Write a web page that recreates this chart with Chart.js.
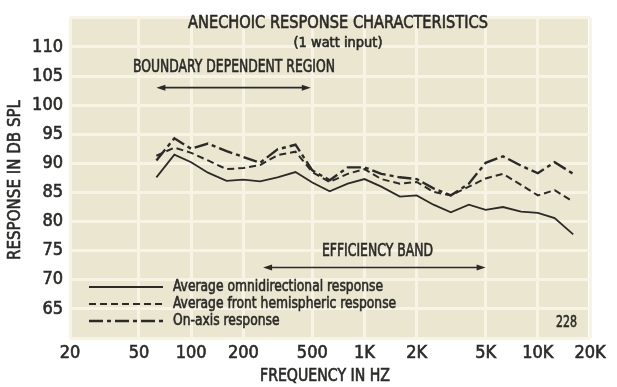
<!DOCTYPE html>
<html>
<head>
<meta charset="utf-8">
<script src="https://cdn.jsdelivr.net/npm/chart.js@4.4.1/dist/chart.umd.min.js"></script>
<style>
  html, body { margin: 0; padding: 0; background: #ffffff; }
  canvas { display: block; }
</style>
</head>
<body>
<canvas id="chart" width="617" height="387"></canvas>
<script>
// 1/3-octave measurement points (Hz)
const freqs = [63, 80, 100, 125, 160, 200, 250, 315, 400, 500, 630, 800, 1000,
               1250, 1600, 2000, 2500, 3150, 4000, 5000, 6300, 8000, 10000, 12500, 16000];

// Response in dB SPL at 1 watt
const omniResponse  = [87.6, 91.5, 90.2, 88.4, 87.0, 87.2, 86.9, 87.6, 88.5, 86.7, 85.2, 86.5, 87.3,
                       86.0, 84.3, 84.5, 82.9, 81.6, 82.9, 82.0, 82.5, 81.7, 81.5, 80.6, 77.8];
const frontResponse = [91.3, 92.7, 91.8, 90.5, 89.0, 89.2, 89.7, 91.4, 92.0, 88.5, 86.8, 88.2, 89.0,
                       87.3, 86.5, 86.8, 85.1, 84.5, 86.0, 87.4, 88.2, 86.3, 84.5, 85.4, 83.4];
const onAxisResponse = [90.5, 94.3, 92.5, 93.4, 92.1, 91.1, 90.1, 92.4, 93.2, 88.8, 87.1, 89.3, 89.3,
                        88.2, 87.6, 87.3, 85.7, 84.5, 86.5, 90.1, 91.2, 89.6, 88.3, 90.2, 88.2];

// Axis ticks
const freqTicks = [20, 50, 100, 200, 500, 1000, 2000, 5000, 10000, 20000];
const freqTickLabels = ['20', '50', '100', '200', '500', '1K', '2K', '5K', '10K', '20K'];
const splTicks = [60, 65, 70, 75, 80, 85, 90, 95, 100, 105, 110, 115];
const splTickLabels = ['', '65', '70', '75', '80', '85', '90', '95', '100', '105', '110', ''];

// Frequency bands marked with arrows: [low Hz, high Hz, level dB]
const boundaryBand = [63, 490, 103];
const efficiencyBand = [260, 5000, 72.1];

const FONT = '"Liberation Sans Narrow", "DejaVu Sans Condensed", "Arial Narrow", "Roboto", sans-serif';
const INK = '#2a2a28';
const PAPER = '#ebe6cf';
const GRID = '#f7f4e5';
const TEXT_STROKE = 0.6;

const seriesStyles = [
  { label: 'Average omnidirectional response', data: omniResponse, dash: [], width: 1.8 },
  { label: 'Average front hemispheric response', data: frontResponse, dash: [7, 4], width: 2 },
  { label: 'On-axis response', data: onAxisResponse, dash: [14, 4, 4, 4], width: 2.4 }
];

Chart.defaults.font.family = FONT;
Chart.defaults.color = INK;

// Draw text squeezed horizontally so it spans the given width
function squeezedText(ctx, text, x, y, width, align, angle) {
  const s = width / ctx.measureText(text).width;
  ctx.save();
  ctx.translate(x, y);
  if (angle) ctx.rotate(angle);
  ctx.scale(s, 1);
  ctx.textAlign = align;
  ctx.lineWidth = TEXT_STROKE;
  ctx.strokeStyle = INK;
  ctx.fillText(text, 0, 0);
  ctx.strokeText(text, 0, 0);
  ctx.restore();
  return s;
}

function drawArrow(ctx, x1, x2, y) {
  ctx.save();
  ctx.strokeStyle = INK;
  ctx.fillStyle = INK;
  ctx.lineWidth = 1.6;
  ctx.beginPath();
  ctx.moveTo(x1 + 4, y);
  ctx.lineTo(x2 - 4, y);
  ctx.stroke();
  [[x1, 1], [x2, -1]].forEach(([x, d]) => {
    ctx.beginPath();
    ctx.moveTo(x, y);
    ctx.lineTo(x + d * 9, y - 3);
    ctx.lineTo(x + d * 9, y + 3);
    ctx.closePath();
    ctx.fill();
  });
  ctx.restore();
}

const paperPlugin = {
  id: 'paper',
  beforeDraw(chart) {
    const { ctx, chartArea: a } = chart;
    ctx.save();
    ctx.fillStyle = '#ffffff';
    ctx.fillRect(0, 0, chart.width, chart.height);
    ctx.fillStyle = PAPER;
    ctx.fillRect(a.left, a.top, a.right - a.left - 2, a.bottom - a.top);
    ctx.restore();
  },
  afterDatasetsDraw(chart) {
    const { ctx, scales: { x, y } } = chart;
    ctx.save();
    ctx.fillStyle = INK;
    ctx.textBaseline = 'middle';

    // heading
    ctx.font = '18px ' + FONT;
    squeezedText(ctx, 'ANECHOIC RESPONSE CHARACTERISTICS', 338, 23, 300, 'center');
    ctx.font = '14px ' + FONT;
    squeezedText(ctx, '(1 watt input)', 338, 43, 89, 'center');

    // band annotations
    ctx.font = '17px ' + FONT;
    squeezedText(ctx, 'BOUNDARY DEPENDENT REGION', 133, 68, 202, 'left');
    squeezedText(ctx, 'EFFICIENCY BAND', 322, 252, 111, 'left');
    drawArrow(ctx, x.getPixelForValue(boundaryBand[0]), x.getPixelForValue(boundaryBand[1]),
              y.getPixelForValue(boundaryBand[2]));
    drawArrow(ctx, x.getPixelForValue(efficiencyBand[0]), x.getPixelForValue(efficiencyBand[1]),
              y.getPixelForValue(efficiencyBand[2]));

    // key
    const keyY = [287, 304, 321];
    ctx.font = '16px ' + FONT;
    const keyScale = 210 / ctx.measureText(seriesStyles[0].label).width;
    seriesStyles.forEach((s, i) => {
      ctx.save();
      ctx.strokeStyle = INK;
      ctx.lineWidth = s.width;
      ctx.setLineDash(s.dash);
      ctx.beginPath();
      ctx.moveTo(89, keyY[i]);
      ctx.lineTo(163, keyY[i]);
      ctx.stroke();
      ctx.restore();
      squeezedText(ctx, s.label, 173, keyY[i], ctx.measureText(s.label).width * keyScale, 'left');
    });

    ctx.font = '16px ' + FONT;
    squeezedText(ctx, '228', 556, 323, 21, 'left');

    // axis titles
    ctx.font = '17px ' + FONT;
    squeezedText(ctx, 'FREQUENCY IN HZ', 325, 377, 130, 'center');
    squeezedText(ctx, 'RESPONSE IN DB SPL', 16, 180, 160, 'center', -Math.PI / 2);
    ctx.restore();
  }
};

new Chart(document.getElementById('chart'), {
  type: 'line',
  data: {
    datasets: seriesStyles.map(s => ({
      label: s.label,
      data: freqs.map((f, i) => ({ x: f, y: s.data[i] })),
      borderColor: INK,
      borderWidth: s.width,
      borderDash: s.dash,
      pointRadius: 0,
      tension: 0,
      fill: false
    }))
  },
  options: {
    responsive: false,
    animation: false,
    devicePixelRatio: 1,
    layout: { padding: { top: 10, right: 27, left: 0, bottom: 0 } },
    plugins: { legend: { display: false }, tooltip: { enabled: false } },
    scales: {
      x: {
        type: 'logarithmic',
        min: 20,
        max: 20000,
        afterBuildTicks(scale) { scale.ticks = freqTicks.map(v => ({ value: v })); },
        afterFit(scale) { scale.height = 49; },
        ticks: {
          autoSkip: false,
          maxRotation: 0,
          padding: 5,
          color: INK,
          textStrokeColor: INK,
          textStrokeWidth: TEXT_STROKE,
          font: { size: 18 },
          callback: (v, i) => freqTickLabels[i]
        },
        grid: { color: GRID, lineWidth: 3, drawTicks: false },
        border: { display: false }
      },
      y: {
        type: 'linear',
        min: 60,
        max: 115,
        afterBuildTicks(scale) { scale.ticks = splTicks.map(v => ({ value: v })); },
        afterFit(scale) { scale.width = 70; },
        ticks: {
          padding: 7,
          color: INK,
          textStrokeColor: INK,
          textStrokeWidth: TEXT_STROKE,
          font: { size: 18 },
          callback: (v, i) => splTickLabels[i]
        },
        grid: { color: GRID, lineWidth: 3, drawTicks: false },
        border: { display: false }
      }
    }
  },
  plugins: [paperPlugin]
});
</script>
</body>
</html>
